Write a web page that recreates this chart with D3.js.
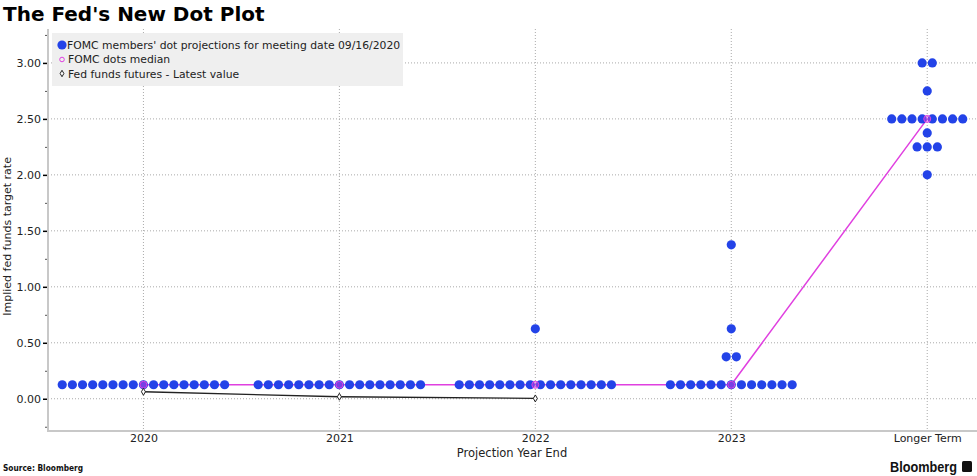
<!DOCTYPE html>
<html><head><meta charset="utf-8">
<script src="https://cdn.jsdelivr.net/npm/d3@7"></script>
<style>
html,body{margin:0;padding:0;background:#fff;}
svg{display:block;font-family:"DejaVu Sans",Verdana,sans-serif;}
</style></head>
<body><svg id="c" width="977" height="476"></svg>
<script>
// ---- data ----
const categories = ["2020", "2021", "2022", "2023", "Longer Term"];
// FOMC member dots: [rate, number of members] per projection year
const dots2020 = [[0.125, 17]];
const dots2021 = [[0.125, 17]];
const dots2022 = [[0.125, 16], [0.625, 1]];
const dots2023 = [[0.125, 13], [0.375, 2], [0.625, 1], [1.375, 1]];
const dotsLonger = [[2.0, 1], [2.25, 3], [2.375, 1], [2.5, 8], [2.75, 1], [3.0, 2]];
const medianValues = [0.125, 0.125, 0.125, 0.125, 2.5];
const futuresValues = [0.0625, 0.018, 0.003]; // 2020..2022
const yTicks = [0, 0.5, 1, 1.5, 2, 2.5, 3];
const yMinorTicks = [-0.25, 0.25, 0.75, 1.25, 1.75, 2.25, 2.75, 3.25];
const legendLabels = ["FOMC members' dot projections for meeting date 09/16/2020", "FOMC dots median", "Fed funds futures - Latest value"];

const allDots = [dots2020, dots2021, dots2022, dots2023, dotsLonger];

// ---- layout ----
const svg = d3.select("#c");
const pL = 48, pR = 977, pT = 29, pB = 431;
const x = d3.scaleLinear().domain([-0.487, 4.254]).range([pL, pR]);
const y = d3.scaleLinear().domain([-0.288, 3.303]).range([pB, pT]);
const dotStep = 10.15, dotR = 4.6;
const blue = "#2343e8", magenta = "#e040e0";

// title
svg.append("text").attr("x", 3).attr("y", 21).attr("font-size", 20).attr("font-weight", "bold")
  .attr("font-family", "'DejaVu Sans', sans-serif").attr("fill", "#000").text("The Fed's New Dot Plot");

// grid
const g = svg.append("g");
g.selectAll(".hg").data(yTicks).join("line")
  .attr("x1", pL).attr("x2", pR).attr("y1", d => y(d)).attr("y2", d => y(d))
  .attr("stroke", "#aaa").attr("stroke-width", 1).attr("stroke-dasharray", "1,2");
g.selectAll(".vg").data(categories).join("line")
  .attr("x1", (d, i) => x(i)).attr("x2", (d, i) => x(i)).attr("y1", pT).attr("y2", pB)
  .attr("stroke", "#aaa").attr("stroke-width", 1).attr("stroke-dasharray", "1,2");

// axes lines
svg.append("line").attr("x1", pL).attr("x2", pL).attr("y1", pT).attr("y2", pB + 1)
  .attr("stroke", "#c8c8c8").attr("stroke-width", 2);
svg.append("line").attr("x1", pL).attr("x2", pR).attr("y1", pB).attr("y2", pB)
  .attr("stroke", "#c8c8c8").attr("stroke-width", 2);

// y axis
const yAxis = d3.axisLeft(y).tickValues(yTicks).tickFormat(d3.format(".2f")).tickSize(4).tickPadding(2);
const ya = svg.append("g").attr("transform", `translate(${pL - 1},0)`).call(yAxis);
ya.select(".domain").remove();
ya.selectAll("text").attr("font-size", 11).attr("fill", "#222").attr("font-family", "'DejaVu Sans', sans-serif");
ya.selectAll("line").attr("stroke", "#000").attr("stroke-width", 1.5);
const yMinor = d3.axisLeft(y).tickValues(yMinorTicks).tickFormat("").tickSize(2);
const ym = svg.append("g").attr("transform", `translate(${pL - 1},0)`).call(yMinor);
ym.select(".domain").remove();
ym.selectAll("line").attr("stroke", "#555");

// x axis labels
const xAxis = d3.axisBottom(x).tickValues(d3.range(categories.length)).tickFormat(i => categories[i]).tickSize(0).tickPadding(3);
const xa = svg.append("g").attr("transform", `translate(0,${pB})`).call(xAxis);
xa.select(".domain").remove();
xa.selectAll("text").attr("font-size", 11).attr("fill", "#222").attr("font-family", "'DejaVu Sans', sans-serif");

// axis titles
svg.append("text").attr("transform", `translate(11,${y(1.45)}) rotate(-90)`).attr("text-anchor", "middle")
  .attr("font-size", 11).attr("fill", "#222").text("Implied fed funds target rate");
svg.append("text").attr("x", 512).attr("y", 457).attr("text-anchor", "middle")
  .attr("font-size", 11.5).attr("fill", "#222").text("Projection Year End");

// member dots
const dotData = [];
allDots.forEach((groups, ci) => {
  groups.forEach(([rate, n]) => {
    for (let k = 0; k < n; k++) dotData.push({ ci, rate, off: (k - (n - 1) / 2) * dotStep });
  });
});

// median line
const line = d3.line().x((d, i) => x(i)).y(d => y(d));
svg.append("path").attr("d", line(medianValues)).attr("fill", "none").attr("stroke", magenta).attr("stroke-width", 1.5);

svg.append("g").selectAll("circle").data(dotData).join("circle")
  .attr("cx", d => x(d.ci) + d.off).attr("cy", d => y(d.rate)).attr("r", dotR).attr("fill", blue);

// median markers
svg.append("g").selectAll("circle").data(medianValues).join("circle")
  .attr("cx", (d, i) => x(i)).attr("cy", d => y(d)).attr("r", 3.5)
  .attr("fill", magenta).attr("fill-opacity", 0.45).attr("stroke", magenta).attr("stroke-width", 1);

// futures line
svg.append("path").attr("d", line(futuresValues)).attr("fill", "none").attr("stroke", "#222").attr("stroke-width", 1.3);
svg.append("g").selectAll("path").data(futuresValues).join("path")
  .attr("d", d3.symbol(d3.symbolDiamond, 14))
  .attr("transform", (d, i) => `translate(${x(i)},${y(d)})`)
  .attr("fill", "#fff").attr("stroke", "#222").attr("stroke-width", 1);

// legend
const lg = svg.append("g");
lg.append("rect").attr("x", 52).attr("y", 33).attr("width", 351).attr("height", 53).attr("fill", "#efefef");
lg.append("circle").attr("cx", 62).attr("cy", 45).attr("r", 4.6).attr("fill", blue);
lg.append("circle").attr("cx", 62).attr("cy", 59.5).attr("r", 2.3).attr("fill", "none").attr("stroke", magenta).attr("stroke-width", 1);
lg.append("path").attr("d", d3.symbol(d3.symbolDiamond, 12)).attr("transform", "translate(62,73.5)")
  .attr("fill", "#fff").attr("stroke", "#222").attr("stroke-width", 1);
lg.selectAll("text").data(legendLabels).join("text")
  .attr("x", (d, i) => i === 0 ? 67 : 68).attr("y", (d, i) => 49 + i * 14.3)
  .attr("font-size", 10.8).attr("fill", "#222").text(d => d);

// footer
svg.append("text").attr("x", 3).attr("y", 471).attr("font-size", 8).attr("font-weight", "bold").attr("fill", "#111")
  .attr("textLength", 80).attr("lengthAdjust", "spacingAndGlyphs").text("Source: Bloomberg");
svg.append("text").attr("x", 890).attr("y", 472).attr("font-size", 14).attr("font-weight", "bold")
  .attr("font-family", "'Liberation Sans', Arial, sans-serif").attr("fill", "#111")
  .attr("textLength", 67).attr("lengthAdjust", "spacingAndGlyphs").text("Bloomberg");
svg.append("rect").attr("x", 962).attr("y", 461).attr("width", 10).attr("height", 11).attr("rx", 1.5).attr("fill", "#111");
</script></body></html>
